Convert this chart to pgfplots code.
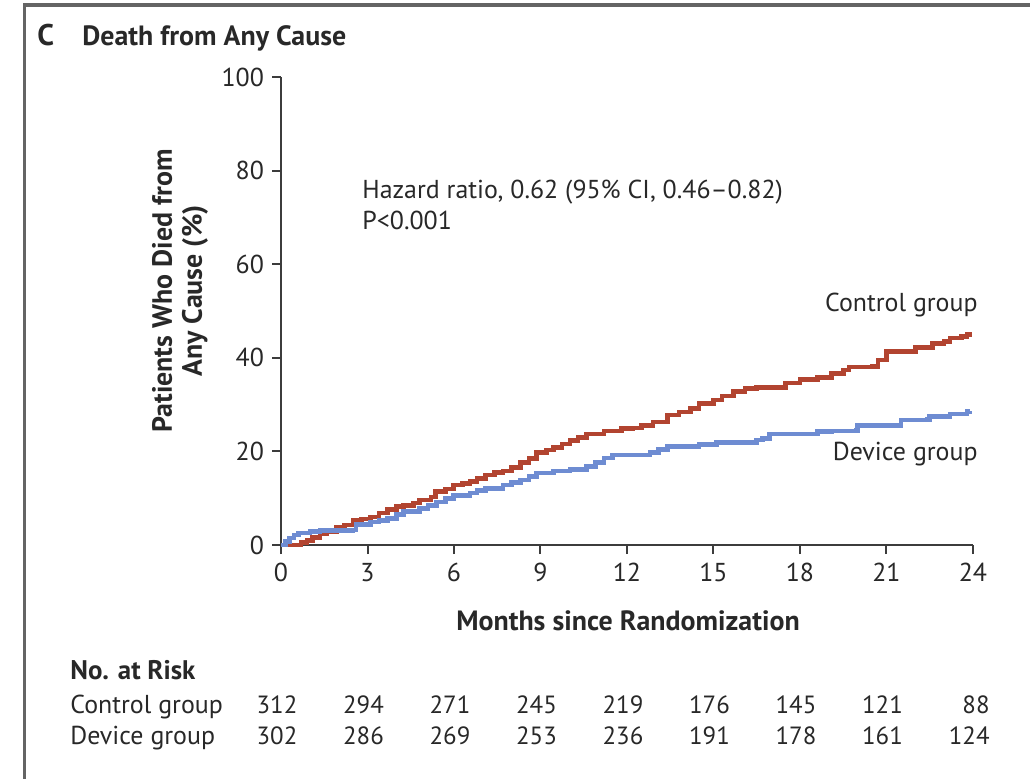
\documentclass[border=0pt]{standalone}
\usepackage{pgfplots}
\pgfplotsset{compat=1.18}
\usepackage{fontspec}
\setmainfont{PT Sans}
\definecolor{ctrl}{RGB}{178,68,48}
\definecolor{dev}{RGB}{110,140,210}
\definecolor{txt}{RGB}{40,40,40}
\definecolor{axc}{RGB}{60,60,60}
\definecolor{frm}{RGB}{100,100,100}
\begin{document}
\begin{tikzpicture}
\begin{scope}[x=0.5bp,y=-0.5bp]
\useasboundingbox (0,0) rectangle (1030,779);
\draw[frm, line width=1.5bp] (24,779) -- (24,5) -- (1030,5);
\node[anchor=base west, font=\fontsize{15}{17}\selectfont\bfseries, text=txt, inner sep=0] at (37,45) {C};
\node[anchor=base west, font=\fontsize{14}{16}\selectfont\bfseries, text=txt, inner sep=0] at (82,45) {Death from Any Cause};
\node[rotate=90, align=center, font=\fontsize{14}{15}\selectfont\bfseries, text=txt, inner sep=0] at (180,291) {Patients Who Died from\\Any Cause (\%)};
\node[font=\fontsize{14}{15}\selectfont\bfseries, text=txt, inner sep=0] at (628,621) {Months since Randomization};
\node[anchor=base west, font=\fontsize{13}{15}\selectfont, text=txt, inner sep=0] at (362,198) {Hazard ratio, 0.62 (95\% CI, 0.46--0.82)};
\node[anchor=base west, font=\fontsize{13}{15}\selectfont, text=txt, inner sep=0] at (362,229) {P<0.001};
\node[anchor=base east, font=\fontsize{13}{15}\selectfont, text=txt, inner sep=0] at (978,311) {Control group};
\node[anchor=base east, font=\fontsize{13}{15}\selectfont, text=txt, inner sep=0] at (978,460) {Device group};
\node[anchor=base west, font=\fontsize{13.5}{15}\selectfont\bfseries, text=txt, inner sep=0] at (70,679) {No. at Risk};
\node[anchor=base west, font=\fontsize{13}{15}\selectfont, text=txt, inner sep=0] at (70,713) {Control group};
\node[anchor=base west, font=\fontsize{13}{15}\selectfont, text=txt, inner sep=0] at (70,744) {Device group};
\foreach \k/\a/\b in {0/312/302,1/294/286,2/271/269,3/245/253,4/219/236,5/176/191,6/145/178,7/121/161}{
  \node[anchor=base, font=\fontsize{12.5}{14}\selectfont, text=txt, inner sep=0] at ({277+86.5*\k},713) {\a};
  \node[anchor=base, font=\fontsize{12.5}{14}\selectfont, text=txt, inner sep=0] at ({277+86.5*\k},744) {\b};
}
\node[anchor=base east, font=\fontsize{12.5}{14}\selectfont, text=txt, inner sep=0] at (990,713) {88};
\node[anchor=base east, font=\fontsize{12.5}{14}\selectfont, text=txt, inner sep=0] at (990,744) {124};
\end{scope}
\begin{axis}[
  at={(140.5bp,-272.5bp)}, anchor=origin,
  x=14.415bp, y=2.34bp,
  xmin=0, xmax=24, ymin=0, ymax=100,
  axis lines=left, axis line style={-, axc, line width=1bp},
  every tick/.style={axc, line width=1bp},
  tick align=outside, major tick length=4.5bp,
  xtick={0,3,...,24}, ytick={0,20,...,100},
  tick label style={font=\fontsize{13}{15}\selectfont, text=txt},
  /pgf/number format/assume math mode=true,
  xticklabel style={yshift=-1bp},
  yticklabel style={xshift=-0.5bp},
  clip=false,
]
\addplot[const plot, ctrl, line width=2.3bp] coordinates {
(0,0) (0.6,0) (0.7,0.6) (0.9,1.0) (1.1,1.6) (1.35,2.4) (1.6,2.9) (1.93,3.7) (2.2,4.3) (2.5,5.3) (2.8,5.6) (3.1,6.0) (3.4,6.8) (3.7,7.6) (4.0,8.2) (4.25,8.5) (4.6,9.0) (4.8,9.6) (5.2,10.3) (5.35,11.4) (5.7,12.0) (5.98,12.8) (6.3,13.2) (6.55,13.6) (6.8,14.2) (7.1,15.0) (7.4,15.5) (7.7,15.8) (8.0,16.6) (8.3,17.6) (8.6,18.5) (8.87,19.8) (9.2,20.3) (9.45,20.9) (9.75,21.6) (10.02,22.3) (10.3,23.0) (10.6,23.7) (11.2,24.4) (11.8,24.9) (12.2,25.0) (12.5,25.6) (12.9,26.3) (13.4,27.8) (13.8,28.4) (14.2,29.2) (14.5,30.3) (15.0,31.0) (15.3,31.8) (15.7,32.8) (16.1,33.4) (16.5,33.7) (17.3,33.7) (17.5,34.6) (18.0,35.4) (18.6,35.8) (19.1,36.7) (19.5,37.4) (19.7,38.0) (20.5,38.2) (20.7,39.5) (21.0,41.3) (21.7,41.4) (22.0,42.2) (22.6,43.1) (23.0,43.5) (23.2,44.2) (23.6,44.5) (23.8,45.0) (23.9,45.6)
};
\addplot[const plot, dev, line width=2.3bp] coordinates {
(0,0) (0.15,0.8) (0.3,1.5) (0.45,2.1) (0.6,2.6) (1.0,2.9) (1.35,3.1) (2.5,3.2) (2.6,4.4) (3.1,4.9) (3.4,5.3) (3.7,5.7) (4.0,6.5) (4.25,7.1) (4.8,7.8) (5.1,8.4) (5.4,9.2) (5.7,9.9) (5.98,10.6) (6.55,11.1) (6.8,11.6) (7.1,12.1) (7.7,12.8) (8.0,13.3) (8.3,13.9) (8.6,14.6) (8.87,15.4) (9.45,15.8) (10.02,16.1) (10.6,16.8) (10.9,17.6) (11.2,18.6) (11.5,19.2) (12.8,19.8) (13.1,20.4) (13.4,21.0) (14.5,21.5) (15.1,21.9) (16.2,21.9) (16.5,22.4) (16.7,22.8) (16.95,23.7) (18.3,23.7) (18.6,24.2) (19.1,24.4) (19.95,24.5) (20.0,25.5) (21.4,25.5) (21.5,26.7) (22.4,26.8) (22.5,27.4) (23.2,28.0) (23.8,28.5) (23.9,28.7)
};
\end{axis}
\end{tikzpicture}
\end{document}
